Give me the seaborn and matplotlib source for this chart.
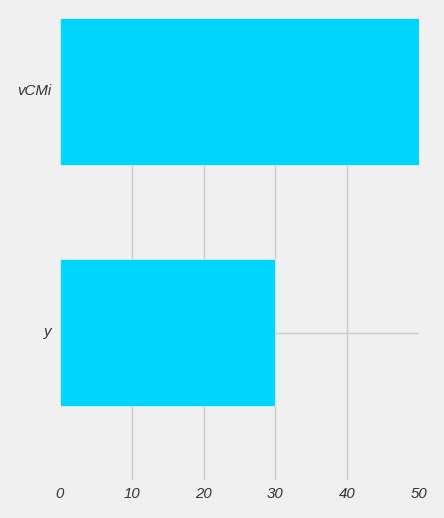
import matplotlib
matplotlib.use("Agg")
import matplotlib.pyplot as plt
import matplotlib.transforms as mtransforms
import seaborn as sns
import pandas as pd

categories = ["vCMi", "y"]
values = [50, 30]
xticks = [0, 10, 20, 30, 40, 50]

sns.set_theme(style="whitegrid")
plt.style.use("fivethirtyeight")
plt.rcParams['font.family'] = ['Liberation Sans', 'DejaVu Sans']

df = pd.DataFrame({"cat": categories, "val": values})

fig = plt.figure(figsize=(4.44, 5.18), dpi=100, facecolor="#f0f0f0")
ax = fig.add_axes([60/444, 1 - 480/518, (419-60)/444, (480-18)/518])
ax.set_facecolor("#f0f0f0")
sns.barplot(data=df, x="val", y="cat", orient="h", color="#00d5ff",
            saturation=1, width=0.612, ax=ax, zorder=3)
ax.set_xlim(0, 50)
ax.set_ylim(1.612, -0.305)
ax.set_xticks(xticks)
ax.grid(True, color="#cbcbcb", linewidth=1, zorder=0)
ax.set_axisbelow(True)
for s in ax.spines.values():
    s.set_visible(False)
ax.set_xlabel("")
ax.set_ylabel("")
ax.tick_params(axis="both", length=0, labelsize=10.8, labelcolor="#333333")
ax.tick_params(axis="x", pad=5)
ax.tick_params(axis="y", pad=6)
for lab in ax.get_xticklabels():
    lab.set_fontstyle("italic")
shift = mtransforms.ScaledTranslation(0, 2.5/100, fig.dpi_scale_trans)
for lab in ax.get_yticklabels():
    lab.set_fontstyle("italic")
    lab.set_transform(lab.get_transform() + shift)
ticks = ax.xaxis.get_major_ticks()
ticks[0].gridline.set_visible(False)
ticks[-1].gridline.set_visible(False)
fig.savefig("out.png", dpi=100, facecolor="#f0f0f0")
